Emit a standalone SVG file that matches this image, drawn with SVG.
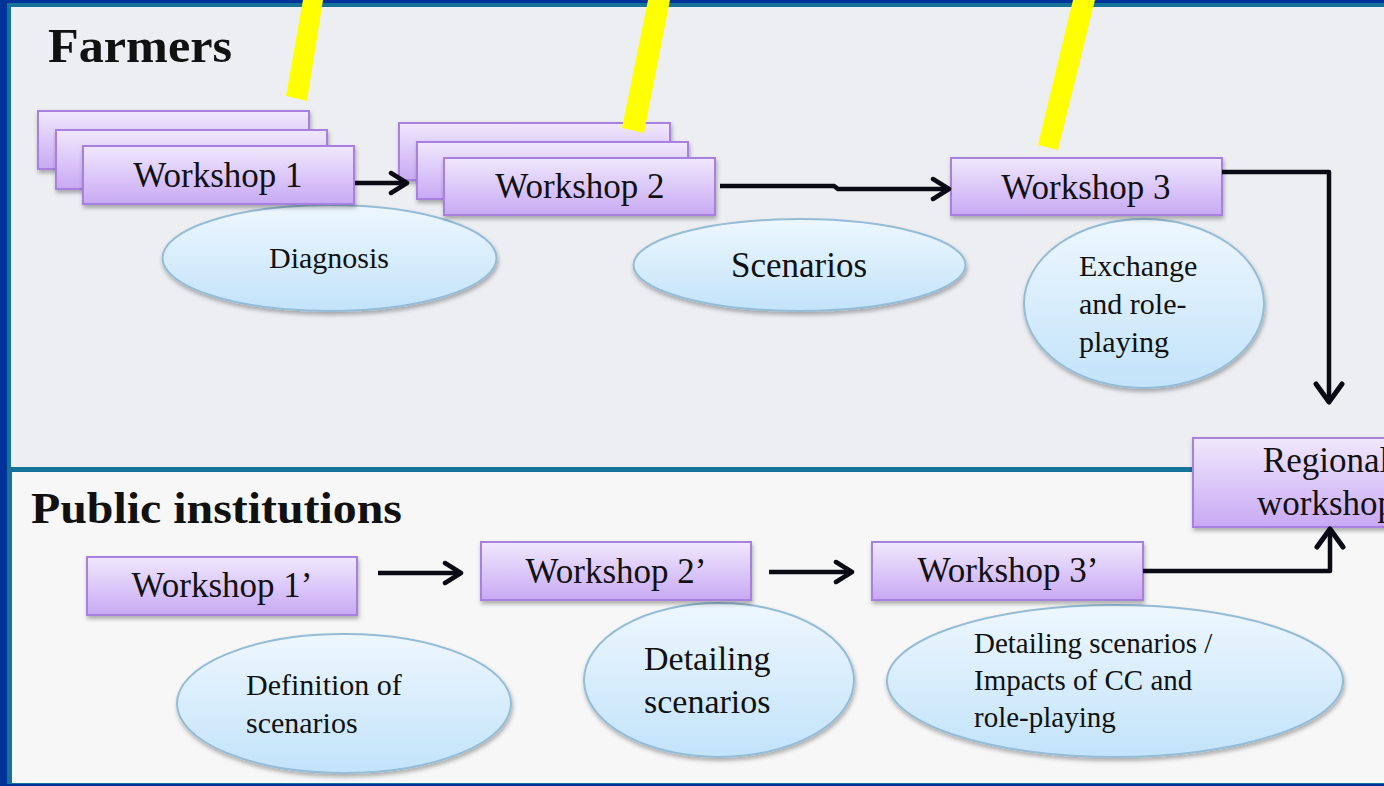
<svg xmlns="http://www.w3.org/2000/svg" width="1384" height="786" viewBox="0 0 1384 786">
<defs>
<linearGradient id="gBox" x1="0" y1="0" x2="0" y2="1">
<stop offset="0" stop-color="#F0E8FD"/><stop offset="1" stop-color="#C8A9F4"/>
</linearGradient>
<linearGradient id="gEll" x1="0" y1="0" x2="0" y2="1">
<stop offset="0" stop-color="#EEF7FE"/><stop offset="1" stop-color="#C2E3FA"/>
</linearGradient>
<filter id="sh" x="-10%" y="-20%" width="120%" height="150%">
<feDropShadow dx="1" dy="3" stdDeviation="2" flood-color="#000" flood-opacity="0.3"/>
</filter>
<marker id="arS" markerUnits="userSpaceOnUse" viewBox="0 0 24 26" markerWidth="24" markerHeight="26" refX="20" refY="13" orient="auto">
<path d="M4,3 L20,13 L4,23" fill="none" stroke="#0A0A14" stroke-width="4.5" stroke-linecap="round" stroke-linejoin="round"/>
</marker>
<marker id="arB" markerUnits="userSpaceOnUse" viewBox="0 0 26 32" markerWidth="26" markerHeight="32" refX="22" refY="16" orient="auto">
<path d="M4,3 L22,16 L4,29" fill="none" stroke="#0A0A14" stroke-width="5" stroke-linecap="round" stroke-linejoin="round"/>
</marker>
<style>
.box{fill:url(#gBox);stroke:#A880E0;stroke-width:2;filter:url(#sh)}
.ell{fill:url(#gEll);stroke:#94BCD7;stroke-width:2;filter:url(#sh)}
.t{font-family:"Liberation Serif","DejaVu Serif",serif;fill:#111;}
.bt{font-size:35px;text-anchor:middle}
.h{font-weight:bold;}
.con{fill:none;stroke:#0A0A14;stroke-width:4.5}
.yl{fill:#FFFF00}
</style>
</defs>

<g id="background">
<rect width="1384" height="786" fill="#003399"/>
<rect x="7" y="3" width="1380" height="781" fill="#137399"/>
<rect x="11" y="7" width="1376" height="460" fill="#EDEEF2"/>
<rect x="12" y="472" width="1376" height="311" fill="#F7F7F7"/>
</g>

<g id="titles">
<text class="t h" x="48" y="62" font-size="48" textLength="184" lengthAdjust="spacingAndGlyphs">Farmers</text>
<text class="t h" x="31" y="523" font-size="45" textLength="371" lengthAdjust="spacingAndGlyphs">Public institutions</text>
</g>

<g id="diagnosis">
<ellipse class="ell" cx="329.5" cy="258" rx="167" ry="53"/>
<text class="t" x="329" y="268" font-size="30" text-anchor="middle">Diagnosis</text>
</g>
<g id="scenarios">
<ellipse class="ell" cx="799.5" cy="265" rx="166" ry="46"/>
<text class="t" x="799" y="277" font-size="35" text-anchor="middle">Scenarios</text>
</g>
<g id="exchange">
<ellipse class="ell" cx="1144" cy="303.5" rx="120" ry="84.5"/>
<text class="t" font-size="30"><tspan x="1079" y="276">Exchange</tspan><tspan x="1079" y="314">and role-</tspan><tspan x="1079" y="352">playing</tspan></text>
</g>
<g id="definition">
<ellipse class="ell" cx="344" cy="703.5" rx="167" ry="69.5"/>
<text class="t" font-size="30"><tspan x="246" y="695">Definition of</tspan><tspan x="246" y="733">scenarios</tspan></text>
</g>
<g id="detailing">
<ellipse class="ell" cx="719" cy="680" rx="135" ry="77"/>
<text class="t" font-size="34"><tspan x="644" y="670">Detailing</tspan><tspan x="644" y="713">scenarios</tspan></text>
</g>
<g id="detailing-impacts">
<ellipse class="ell" cx="1115" cy="681" rx="228" ry="76"/>
<text class="t" font-size="29"><tspan x="974" y="653">Detailing scenarios /</tspan><tspan x="974" y="690">Impacts of CC and</tspan><tspan x="974" y="727">role-playing</tspan></text>
</g>

<g id="workshop1">
<rect class="box" x="38" y="111" width="271" height="58"/>
<rect class="box" x="56" y="130" width="271" height="59"/>
<rect class="box" x="83" y="146" width="271" height="58"/>
<text class="t bt" x="218" y="187">Workshop 1</text>
</g>
<g id="workshop2">
<rect class="box" x="399" y="123" width="271" height="57"/>
<rect class="box" x="417" y="142" width="271" height="57"/>
<rect class="box" x="444" y="158" width="271" height="57"/>
<text class="t bt" x="580" y="198">Workshop 2</text>
</g>
<g id="workshop3">
<rect class="box" x="951" y="158" width="271" height="57"/>
<text class="t bt" x="1086" y="199">Workshop 3</text>
</g>
<g id="regional">
<rect class="box" x="1193" y="438" width="266" height="89"/>
<text class="t bt" x="1326" y="472">Regional</text>
<text class="t bt" x="1326" y="515">workshop</text>
</g>
<g id="workshop1p">
<rect class="box" x="87" y="557" width="270" height="58"/>
<text class="t bt" x="222" y="597">Workshop 1’</text>
</g>
<g id="workshop2p">
<rect class="box" x="481" y="542" width="270" height="58"/>
<text class="t bt" x="616" y="583">Workshop 2’</text>
</g>
<g id="workshop3p">
<rect class="box" x="872" y="542" width="271" height="58"/>
<text class="t bt" x="1008" y="582">Workshop 3’</text>
</g>

<g id="highlights">
<polygon class="yl" points="286,96 307,101 323,0 303,0"/>
<polygon class="yl" points="622,128 644,133 670,0 648,0"/>
<polygon class="yl" points="1038,145 1058,150 1095,0 1073,0"/>
</g>

<g id="connectors">
<path class="con" d="M355,183 H407" marker-end="url(#arS)"/>
<path class="con" d="M720,186 H834 L838,189 H949" marker-end="url(#arS)"/>
<path class="con" d="M1222,172 H1329 V402" stroke-linejoin="round" marker-end="url(#arB)"/>
<path class="con" d="M378,573 H461" marker-end="url(#arS)"/>
<path class="con" d="M769,572 H852" marker-end="url(#arS)"/>
<path class="con" d="M1143,571 H1330 V529" stroke-linejoin="round" marker-end="url(#arB)"/>
</g>
</svg>
